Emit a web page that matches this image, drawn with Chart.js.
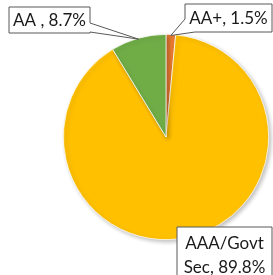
<!DOCTYPE html>
<html>
<head>
<meta charset="utf-8">
<script src="https://cdn.jsdelivr.net/npm/chart.js@4"></script>
<style>
  html, body { margin: 0; padding: 0; background: #fff; }
  #wrap { width: 273px; height: 275px; }
</style>
</head>
<body>
<div id="wrap"><canvas id="pieChart" width="273" height="275"></canvas></div>
<script>
// Datos del gráfico
const categories = ['AA+', 'AAA/Govt Sec', 'AA'];
const shares = [1.5, 89.8, 8.7];
const sliceColors = ['#ED7D31', '#FFC000', '#70AD47'];
const labelLines = [['AA+, 1.5%'], ['AAA/Govt', 'Sec, 89.8%'], ['AA , 8.7%']];

// Cajas de etiquetas (callouts) estilo Excel
const callouts = [
    { box: [185, 4, 272, 32], wedge: 'bottomLeft', lines: labelLines[0] },
    { box: [177, 227, 272, 285], wedge: null, lines: labelLines[1] },
    { box: [9, 7, 90, 33], wedge: 'right', lines: labelLines[2] }
];

const calloutPlugin = {
    id: 'callouts',
    afterDatasetsDraw(chart) {
        const ctx = chart.ctx;
        const arcs = chart.getDatasetMeta(0).data;
        ctx.save();
        callouts.forEach((c, i) => {
            const arc = arcs[i];
            const mid = (arc.startAngle + arc.endAngle) / 2;
            const tx = arc.x + Math.cos(mid) * (arc.outerRadius - 1);
            const ty = arc.y + Math.sin(mid) * (arc.outerRadius - 1);
            const [x1, y1, x2, y2] = c.box;
            ctx.beginPath();
            if (c.wedge === 'right') {
                ctx.moveTo(x1, y1); ctx.lineTo(x2, y1); ctx.lineTo(x2, y1 + 16);
                ctx.lineTo(tx, ty); ctx.lineTo(x2, y2 - 1); ctx.lineTo(x2, y2);
                ctx.lineTo(x1, y2);
            } else if (c.wedge === 'bottomLeft') {
                ctx.moveTo(x1, y1); ctx.lineTo(x2, y1); ctx.lineTo(x2, y2);
                ctx.lineTo(x1 + 10, y2); ctx.lineTo(tx, ty); ctx.lineTo(x1, y1 + 15);
            } else {
                ctx.rect(x1, y1, x2 - x1, y2 - y1);
            }
            ctx.closePath();
            ctx.fillStyle = '#ffffff';
            ctx.fill();
            ctx.lineWidth = 1;
            ctx.strokeStyle = '#595959';
            ctx.stroke();

            ctx.fillStyle = '#1a1a1a';
            ctx.font = '17px Lato, sans-serif';
            ctx.textAlign = 'center';
            ctx.textBaseline = 'middle';
            const cx = (x1 + x2) / 2;
            if (c.lines.length === 1) {
                ctx.fillText(c.lines[0], cx, (y1 + y2) / 2 + 1);
            } else {
                ctx.fillText(c.lines[0], cx, y1 + 17);
                ctx.fillText(c.lines[1], cx, y1 + 41);
            }
        });
        ctx.restore();
    }
};

const shadowPlugin = {
    id: 'pieShadow',
    beforeDatasetsDraw(chart) {
        const ctx = chart.ctx;
        ctx.save();
        ctx.shadowColor = 'rgba(0,0,0,0.25)';
        ctx.shadowBlur = 4;
        ctx.shadowOffsetX = 2;
        ctx.shadowOffsetY = 2;
    },
    afterDatasetsDraw(chart) {
        chart.ctx.restore();
    }
};

new Chart(document.getElementById('pieChart').getContext('2d'), {
    type: 'pie',
    data: {
        labels: categories,
        datasets: [{
            data: shares,
            backgroundColor: sliceColors,
            borderColor: '#ffffff',
            borderWidth: 0.75
        }]
    },
    options: {
        responsive: false,
        animation: false,
        layout: { padding: { left: 63, right: 4, top: 34, bottom: 35 } },
        plugins: {
            legend: { display: false },
            tooltip: { enabled: false }
        }
    },
    plugins: [shadowPlugin, calloutPlugin]
});
</script>
</body>
</html>
